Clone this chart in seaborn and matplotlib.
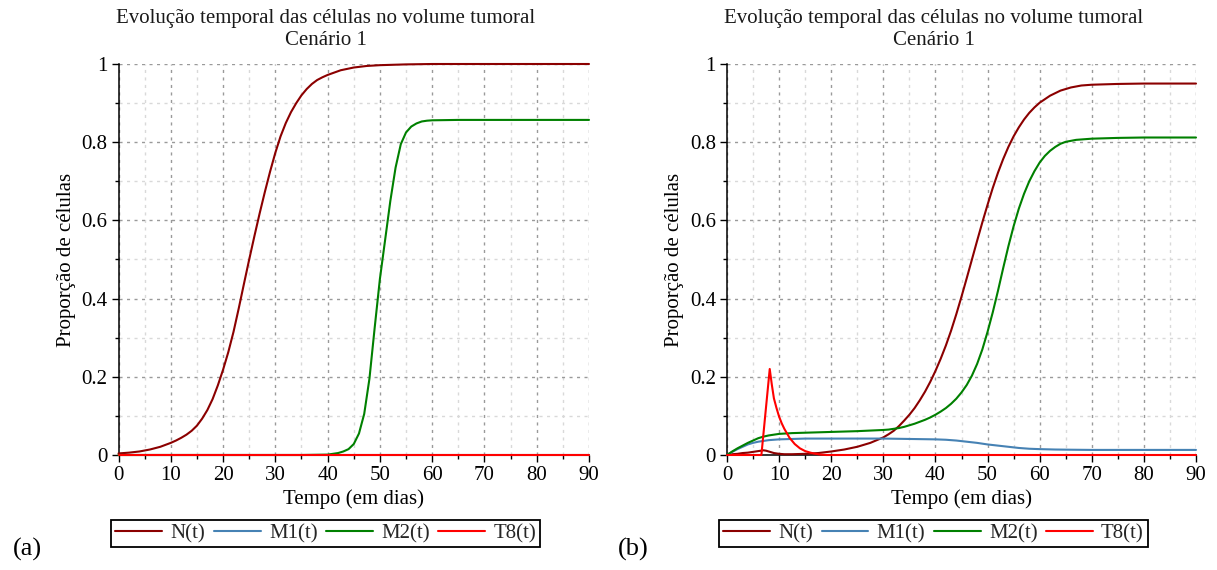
import numpy as np
import pandas as pd
import matplotlib
matplotlib.use("Agg")
import matplotlib.pyplot as plt
from matplotlib.ticker import MultipleLocator, FuncFormatter
import seaborn as sns

# ---------------- data ----------------
series_names = ["N(t)", "M1(t)", "M2(t)", "T8(t)"]
series_colors = ["#8B0000", "#4682B4", "#008000", "#FF0000"]

title_text = "Evolução temporal das células no volume tumoral\nCenário 1"
xlabel_text = "Tempo (em dias)"
ylabel_text = "Proporção de células"
panel_tags = ["(a)", "(b)"]

# Panel (a)
a_t_N = [0, 2, 4, 6, 8, 10, 11, 12, 13, 14, 15, 16, 17, 18, 19, 20, 21, 22, 23, 24, 25,
         26, 27, 28, 29, 30, 31, 32, 33, 34, 35, 36, 37, 38, 39, 40, 42.5, 45, 47.5, 50,
         55, 60, 70, 90]
a_N = [0.004, 0.006, 0.009, 0.014, 0.021, 0.031, 0.037, 0.044, 0.052, 0.062, 0.075,
       0.093, 0.115, 0.143, 0.178, 0.218, 0.263, 0.315, 0.375, 0.438, 0.50, 0.56, 0.618,
       0.673, 0.725, 0.773, 0.815, 0.849, 0.877, 0.90, 0.92, 0.936, 0.949, 0.959, 0.966,
       0.972, 0.984, 0.991, 0.995, 0.997, 0.999, 1.0, 1.0, 1.0]
a_t_M1 = [0, 90]
a_M1 = [0.0, 0.0]
a_t_M2 = [0, 35, 40, 41, 42, 43, 44, 45, 46, 47, 48, 49, 50, 51, 52, 53, 54, 55, 56, 57,
          58, 59, 60, 65, 90]
a_M2 = [0.0, 0.0, 0.001, 0.003, 0.005, 0.009, 0.015, 0.028, 0.055, 0.105, 0.195, 0.325,
        0.45, 0.55, 0.65, 0.735, 0.795, 0.825, 0.84, 0.848, 0.853, 0.855, 0.856, 0.857,
        0.857]
a_t_T8 = [0, 90]
a_T8 = [0.0, 0.0]

# Panel (b)
b_t_N = [0, 1, 2, 3, 4, 5, 6, 7, 7.5, 8, 9, 10, 11, 12.5, 15, 17.5, 20, 22.5, 25, 27.5,
         30, 31, 32, 33, 34, 35, 36, 37, 38, 39, 40, 41, 42, 43, 44, 45, 46, 47, 48, 49,
         50, 51, 52, 53, 54, 55, 56, 57, 58, 59, 60, 62, 64, 66, 68, 70, 75, 80, 90]
b_N = [0.0, 0.002, 0.003, 0.005, 0.006, 0.008, 0.010, 0.012, 0.011, 0.009, 0.005, 0.003,
       0.002, 0.002, 0.003, 0.005, 0.009, 0.014, 0.021, 0.031, 0.045, 0.053, 0.062, 0.074,
       0.088, 0.103, 0.12, 0.14, 0.162, 0.187, 0.215, 0.246, 0.28, 0.318, 0.36, 0.405,
       0.452, 0.50, 0.548, 0.595, 0.64, 0.683, 0.722, 0.757, 0.788, 0.815, 0.838, 0.858,
       0.875, 0.889, 0.901, 0.919, 0.932, 0.94, 0.945, 0.947, 0.949, 0.95, 0.95]
b_t_M1 = [0, 1, 2, 3, 4, 5, 6, 7, 8, 10, 12.5, 15, 20, 30, 35, 40, 42, 44, 46, 48, 50,
          52, 54, 56, 58, 60, 63, 66, 70, 90]
b_M1 = [0.0, 0.008, 0.015, 0.021, 0.027, 0.031, 0.034, 0.036, 0.038, 0.040, 0.041, 0.042,
        0.042, 0.042, 0.041, 0.040, 0.039, 0.037, 0.034, 0.031, 0.027, 0.024, 0.021, 0.018,
        0.016, 0.015, 0.014, 0.0135, 0.013, 0.013]
b_t_M2 = [0, 1, 2, 3, 4, 5, 6, 7, 8, 9, 10, 12.5, 15, 20, 25, 30, 31, 32, 33, 34, 35, 36,
          37, 38, 39, 40, 41, 42, 43, 44, 45, 46, 47, 48, 49, 50, 51, 52, 53, 54, 55, 56,
          57, 58, 59, 60, 61, 62, 63, 64, 65, 67, 70, 75, 80, 90]
b_M2 = [0.0, 0.009, 0.017, 0.024, 0.031, 0.037, 0.043, 0.047, 0.050, 0.052, 0.054, 0.056,
        0.057, 0.059, 0.061, 0.064, 0.065, 0.067, 0.069, 0.072, 0.076, 0.08, 0.085, 0.09,
        0.096, 0.103, 0.111, 0.12, 0.131, 0.144, 0.16, 0.179, 0.203, 0.233, 0.27, 0.315,
        0.365, 0.42, 0.478, 0.534, 0.585, 0.63, 0.668, 0.70, 0.726, 0.748, 0.765, 0.778,
        0.788, 0.796, 0.801, 0.806, 0.809, 0.811, 0.812, 0.812]
b_t_T8 = [0, 6.6, 8.2, 8.6, 9, 9.5, 10, 10.5, 11, 12, 13, 14, 15, 16, 17, 18, 19, 90]
b_T8 = [0.0, 0.0, 0.22, 0.18, 0.145, 0.12, 0.098, 0.081, 0.067, 0.044, 0.028, 0.017,
        0.010, 0.006, 0.003, 0.001, 0.0, 0.0]

x_limits = (0, 90)
y_limits = (0, 1)

# ---------------- style ----------------
sns.set_theme(style="ticks")
plt.rcParams["font.family"] = ["Liberation Serif", "DejaVu Serif"]
plt.rcParams["axes.linewidth"] = 1.1

fig = plt.figure(figsize=(12.17, 5.70), dpi=100)
W, H = 1217, 570

def fx(px):
    return px / W

def fy(py):
    return 1 - py / H

axes_px = [(118.5, 589), (727, 1196)]
top_px, bot_px = 64, 455

panels = [
    [(a_t_N, a_N), (a_t_M1, a_M1), (a_t_M2, a_M2), (a_t_T8, a_T8)],
    [(b_t_N, b_N), (b_t_M1, b_M1), (b_t_M2, b_M2), (b_t_T8, b_T8)],
]

for i, (left, right) in enumerate(axes_px):
    ax = fig.add_axes([fx(left), fy(bot_px), (right - left) / W, (bot_px - top_px) / H])
    for j, (tt, vv) in enumerate(panels[i]):
        df = pd.DataFrame({"t": tt, "v": vv})
        sns.lineplot(data=df, x="t", y="v", ax=ax, color=series_colors[j],
                     label=series_names[j], linewidth=1.5, estimator=None,
                     sort=False, zorder=3 + j, clip_on=False)
    for line in ax.get_lines():
        line.set_solid_joinstyle("round")
        line.set_solid_capstyle("round")
    ax.set_xlim(*x_limits)
    ax.set_ylim(*y_limits)
    ax.xaxis.set_major_locator(MultipleLocator(10))
    ax.xaxis.set_minor_locator(MultipleLocator(5))
    ax.yaxis.set_major_locator(MultipleLocator(0.2))
    ax.yaxis.set_minor_locator(MultipleLocator(0.1))
    ax.yaxis.set_major_formatter(FuncFormatter(lambda v, p: f"{v:g}"))
    ax.grid(which="major", color="#9a9a9a", linestyle=(0, (2.2, 3.2)), linewidth=1.0)
    ax.grid(which="minor", color="#d9d9d9", linestyle=(0, (2.2, 3.2)), linewidth=1.0)
    ax.set_axisbelow(True)
    for s in ["top", "right"]:
        ax.spines[s].set_visible(False)
    for s in ["left", "bottom"]:
        ax.spines[s].set_color("black")
        ax.spines[s].set_zorder(2.5)
    ax.tick_params(which="major", direction="out", length=5, width=1, colors="black",
                   labelsize=15, pad=3)
    ax.tick_params(which="minor", direction="out", length=3, width=1, colors="black")
    ax.set_xlabel(xlabel_text, fontsize=15, labelpad=3, color="black")
    ax.set_ylabel(ylabel_text, fontsize=15, labelpad=4, color="black")
    ax.set_facecolor("white")

    handles, labels = ax.get_legend_handles_labels()
    ax.get_legend().remove()
    center_x = (left + right) / 2 - 28
    fig.legend(handles, labels, loc="center", bbox_to_anchor=(fx(center_x), fy(533.5)),
               ncol=4, fontsize=15, frameon=True, fancybox=False, edgecolor="black",
               framealpha=1, handlelength=2.25, handletextpad=0.4, columnspacing=0.4,
               borderpad=0.2, borderaxespad=0)
    fig.legends[-1].get_frame().set_linewidth(1.3)

    fig.text(fx(center_x), fy(29.5), title_text, ha="center", va="center",
             fontsize=15, linespacing=1.2, color="#1a1a1a")
    tag_x = 27 if i == 0 else 633
    fig.text(fx(tag_x), fy(549), panel_tags[i], ha="center", va="center", fontsize=19,
             color="black")

fig.savefig("out.png", dpi=100, facecolor="white")
